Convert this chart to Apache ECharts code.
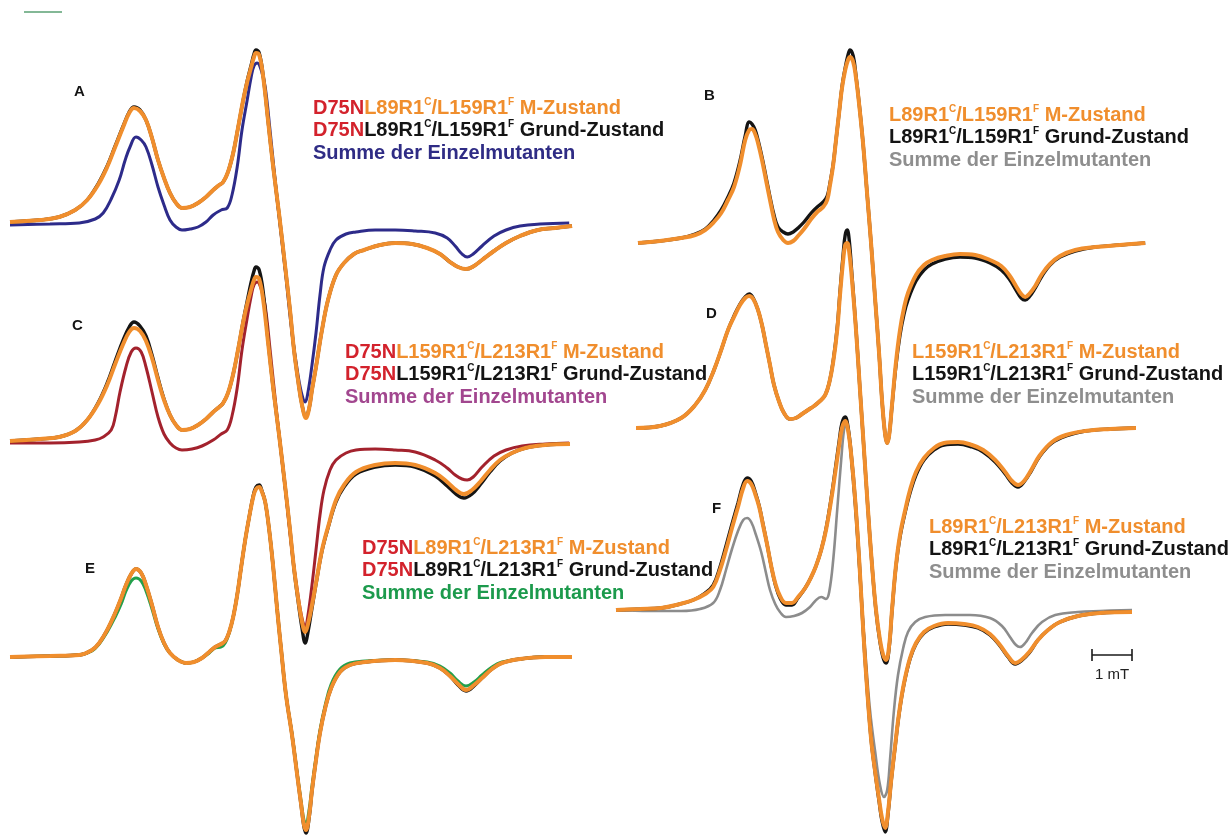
<!DOCTYPE html>
<html>
<head>
<meta charset="utf-8">
<script src="https://cdn.jsdelivr.net/npm/echarts@6/dist/echarts.min.js"></script>
<style>
  html, body { margin: 0; padding: 0; background: #ffffff; }
  #chart { width: 1228px; height: 835px; }
</style>
</head>
<body>
<div id="chart"></div>
<script>
// cw-EPR derivative spectra, points are [field offset (mT), intensity (a.u.)]

// A: D75N L89R1c/L159R1f
const specA_M = [[0,0],[0.75,0.2],[1.23,0.5],[1.63,1.2],[1.93,2.2],[2.2,3.7],[2.43,5.5],[2.63,7.5],[2.83,9.5],[2.98,10.9],[3.1,11.4],[3.25,11.1],[3.4,10.2],[3.55,8.4],[3.7,6.2],[3.85,4.4],[4.0,2.9],[4.15,1.9],[4.3,1.4],[4.5,1.5],[4.7,1.9],[4.9,2.5],[5.08,3.2],[5.23,3.7],[5.33,4.0],[5.45,5.0],[5.58,6.9],[5.7,9.4],[5.83,12.2],[5.93,14.0],[6.03,15.5],[6.1,16.5],[6.15,16.9],[6.23,16.7],[6.33,14.5],[6.45,10.2],[6.58,5.5],[6.73,0.7],[6.88,-4.5],[7.0,-8.8],[7.1,-12.8],[7.2,-15.8],[7.3,-18.3],[7.4,-19.6],[7.48,-18.6],[7.55,-16.8],[7.65,-14.5],[7.8,-10.8],[7.95,-7.8],[8.15,-5.3],[8.35,-4.1],[8.6,-3.2],[8.85,-2.8],[9.25,-2.3],[9.63,-2.1],[10.05,-2.2],[10.43,-2.6],[10.75,-3.2],[11.0,-4.0],[11.2,-4.5],[11.4,-4.7],[11.6,-4.4],[11.8,-3.8],[12.1,-2.9],[12.4,-2.1],[12.75,-1.4],[13.2,-0.8],[13.63,-0.6],[14.05,-0.4]];
const specA_G = [[0,0],[0.75,0.2],[1.23,0.5],[1.63,1.2],[1.93,2.2],[2.2,3.8],[2.43,5.6],[2.63,7.6],[2.83,9.6],[2.98,11.0],[3.1,11.5],[3.25,11.2],[3.4,10.2],[3.55,8.4],[3.7,6.2],[3.85,4.4],[4.0,2.9],[4.15,1.9],[4.3,1.4],[4.5,1.5],[4.7,1.9],[4.9,2.5],[5.08,3.2],[5.23,3.7],[5.33,4.0],[5.45,5.0],[5.58,6.9],[5.7,9.4],[5.83,12.2],[5.93,14.1],[6.03,15.7],[6.1,16.8],[6.15,17.2],[6.23,16.9],[6.33,14.6],[6.45,10.2],[6.58,5.5],[6.73,0.7],[6.88,-4.5],[7.0,-8.8],[7.1,-12.8],[7.2,-15.8],[7.3,-18.3],[7.4,-19.5],[7.48,-18.6],[7.55,-16.8],[7.65,-14.5],[7.8,-10.8],[7.95,-7.8],[8.15,-5.3],[8.35,-4.1],[8.6,-3.2],[8.85,-2.8],[9.25,-2.3],[9.63,-2.1],[10.05,-2.2],[10.43,-2.6],[10.75,-3.2],[11.0,-4.0],[11.2,-4.5],[11.4,-4.7],[11.6,-4.4],[11.8,-3.8],[12.1,-2.9],[12.4,-2.1],[12.75,-1.4],[13.2,-0.8],[13.63,-0.6],[14.05,-0.4]];
const specA_S = [[0,-0.3],[1.0,-0.2],[1.73,-0.1],[2.13,0.3],[2.33,0.9],[2.53,2.3],[2.73,4.2],[2.88,6.2],[3.0,7.5],[3.15,8.5],[3.28,8.2],[3.4,7.5],[3.55,5.7],[3.7,3.5],[3.85,1.7],[4.0,0.2],[4.15,-0.5],[4.3,-0.8],[4.5,-0.7],[4.7,-0.5],[4.9,0],[5.08,0.7],[5.28,1.2],[5.43,1.4],[5.55,2.7],[5.68,5.5],[5.8,9.2],[5.93,12.2],[6.03,14.5],[6.1,15.6],[6.18,15.9],[6.28,15.2],[6.38,13.5],[6.5,9.2],[6.68,2.2],[6.88,-4.8],[7.05,-11.1],[7.2,-15.3],[7.3,-17.3],[7.38,-18.0],[7.45,-17.0],[7.55,-14.3],[7.65,-11.1],[7.75,-7.3],[7.85,-4.5],[8.0,-2.8],[8.15,-1.8],[8.4,-1.2],[8.65,-1.0],[9.13,-0.8],[9.63,-0.8],[10.13,-0.9],[10.63,-1.1],[10.93,-1.6],[11.13,-2.4],[11.3,-3.2],[11.43,-3.5],[11.58,-3.2],[11.8,-2.4],[12.1,-1.4],[12.4,-0.8],[12.75,-0.4],[13.25,-0.2],[13.98,-0.1]];

// C: D75N L159R1c/L213R1f
const specC_M = [[0,-0.1],[0.75,0.1],[1.23,0.3],[1.63,0.9],[1.93,2.0],[2.2,3.6],[2.43,5.5],[2.63,7.6],[2.83,9.6],[2.98,10.8],[3.1,11.2],[3.25,10.9],[3.4,9.9],[3.55,8.2],[3.7,6.0],[3.85,4.0],[4.0,2.5],[4.15,1.5],[4.3,1.0],[4.5,1.1],[4.7,1.5],[4.9,2.1],[5.08,2.8],[5.23,3.3],[5.33,3.7],[5.45,4.7],[5.58,6.6],[5.7,9.0],[5.83,11.8],[5.93,13.6],[6.03,15.1],[6.1,16.0],[6.15,16.3],[6.23,16.1],[6.33,14.0],[6.45,9.8],[6.58,5.2],[6.73,0.4],[6.88,-4.7],[7.0,-9.0],[7.1,-12.8],[7.2,-15.8],[7.3,-18.2],[7.38,-19.2],[7.45,-18.4],[7.55,-16.5],[7.65,-14.3],[7.8,-11.0],[7.95,-8.7],[8.15,-6.0],[8.35,-4.5],[8.65,-3.2],[9.13,-2.5],[9.63,-2.3],[10.13,-2.5],[10.63,-3.3],[10.93,-4.2],[11.15,-5.0],[11.35,-5.4],[11.55,-5.0],[11.75,-4.2],[12.0,-3.0],[12.25,-2.0],[12.55,-1.3],[12.88,-0.8],[13.38,-0.5],[14.0,-0.4]];
const specC_G = [[0,-0.1],[0.75,0.1],[1.23,0.3],[1.63,0.9],[1.93,2.0],[2.2,3.7],[2.43,5.7],[2.63,7.9],[2.83,10.0],[2.98,11.3],[3.1,11.8],[3.25,11.4],[3.4,10.4],[3.55,8.5],[3.7,6.2],[3.85,4.1],[4.0,2.5],[4.15,1.5],[4.3,1.0],[4.5,1.1],[4.7,1.5],[4.9,2.1],[5.08,2.8],[5.23,3.3],[5.33,3.7],[5.45,4.7],[5.58,6.6],[5.7,9.0],[5.83,11.9],[5.93,13.9],[6.03,15.8],[6.1,16.9],[6.15,17.3],[6.23,17.0],[6.33,14.8],[6.45,10.0],[6.58,5.2],[6.73,0.4],[6.88,-4.7],[7.0,-9.0],[7.1,-12.9],[7.2,-16.0],[7.3,-18.8],[7.38,-20.3],[7.45,-19.2],[7.55,-16.8],[7.65,-14.4],[7.8,-11.1],[7.95,-8.8],[8.15,-6.2],[8.35,-4.7],[8.65,-3.4],[9.13,-2.7],[9.63,-2.5],[10.13,-2.7],[10.63,-3.6],[10.93,-4.6],[11.15,-5.4],[11.35,-5.8],[11.55,-5.4],[11.75,-4.5],[12.0,-3.2],[12.25,-2.1],[12.55,-1.3],[12.88,-0.8],[13.38,-0.5],[14.0,-0.4]];
const specC_S = [[0,-0.3],[1.0,-0.3],[1.73,-0.2],[2.13,0],[2.33,0.3],[2.53,1.0],[2.63,2.3],[2.75,4.8],[2.9,7.3],[3.03,8.8],[3.15,9.2],[3.28,8.8],[3.4,7.3],[3.55,4.8],[3.7,2.3],[3.85,0.6],[4.0,-0.3],[4.15,-0.8],[4.3,-1.0],[4.55,-0.9],[4.8,-0.6],[5.08,0],[5.28,0.6],[5.43,1.0],[5.55,2.4],[5.68,5.2],[5.8,9.0],[5.93,12.2],[6.03,14.4],[6.1,15.5],[6.18,15.8],[6.28,15.1],[6.38,13.4],[6.5,9.1],[6.68,2.2],[6.88,-4.8],[7.05,-11.1],[7.2,-15.5],[7.3,-17.8],[7.38,-18.7],[7.45,-17.5],[7.55,-14.5],[7.65,-11.0],[7.75,-7.5],[7.85,-5.0],[8.0,-3.0],[8.15,-2.0],[8.4,-1.3],[8.65,-1.0],[9.13,-0.9],[9.63,-1.0],[10.13,-1.2],[10.63,-2.0],[10.93,-2.8],[11.13,-3.5],[11.3,-3.9],[11.43,-4.0],[11.58,-3.7],[11.8,-2.7],[12.1,-1.6],[12.4,-1.0],[12.8,-0.6],[13.38,-0.4],[13.98,-0.3]];

// E: D75N L89R1c/L213R1f
const specE_M = [[0,0],[1.0,0.1],[1.73,0.2],[2.05,0.7],[2.23,1.4],[2.43,2.7],[2.63,4.4],[2.78,5.9],[2.9,7.2],[3.03,8.3],[3.15,8.8],[3.28,8.4],[3.4,7.2],[3.55,5.2],[3.7,3.0],[3.85,1.4],[4.0,0.4],[4.2,-0.3],[4.4,-0.6],[4.6,-0.5],[4.8,-0.1],[4.98,0.5],[5.13,1.0],[5.28,1.3],[5.38,1.6],[5.48,2.5],[5.58,4.0],[5.68,6.2],[5.78,9.0],[5.88,11.7],[5.98,14.0],[6.08,16.0],[6.15,16.8],[6.23,17.0],[6.3,16.5],[6.38,15.5],[6.48,12.7],[6.58,9.0],[6.68,4.7],[6.78,0.7],[6.9,-3.8],[7.05,-7.8],[7.18,-11.8],[7.28,-14.8],[7.35,-16.8],[7.4,-17.3],[7.48,-15.8],[7.55,-13.3],[7.65,-10.3],[7.75,-7.6],[7.88,-5.1],[8.03,-3.1],[8.25,-1.5],[8.5,-0.8],[8.88,-0.5],[9.63,-0.3],[10.43,-0.6],[10.75,-1.1],[11.0,-1.9],[11.2,-2.7],[11.4,-3.3],[11.6,-2.8],[11.8,-2.1],[12.05,-1.2],[12.3,-0.6],[12.75,-0.2],[13.38,0],[14.05,0]];
const specE_G = [[0,0],[1.0,0.1],[1.73,0.2],[2.05,0.7],[2.23,1.4],[2.43,2.7],[2.63,4.4],[2.78,5.9],[2.9,7.2],[3.03,8.3],[3.15,8.8],[3.28,8.4],[3.4,7.2],[3.55,5.2],[3.7,3.0],[3.85,1.4],[4.0,0.4],[4.2,-0.3],[4.4,-0.6],[4.6,-0.5],[4.8,-0.1],[4.98,0.5],[5.13,1.0],[5.28,1.3],[5.38,1.6],[5.48,2.5],[5.58,4.0],[5.68,6.2],[5.78,9.0],[5.88,11.7],[5.98,14.0],[6.08,16.1],[6.15,17.0],[6.23,17.2],[6.3,16.6],[6.38,15.5],[6.48,12.7],[6.58,9.0],[6.68,4.7],[6.78,0.7],[6.9,-3.8],[7.05,-7.8],[7.18,-11.8],[7.28,-14.9],[7.35,-17.0],[7.4,-17.6],[7.48,-16.0],[7.55,-13.4],[7.65,-10.3],[7.75,-7.6],[7.88,-5.1],[8.03,-3.1],[8.25,-1.5],[8.5,-0.8],[8.88,-0.5],[9.63,-0.3],[10.43,-0.6],[10.75,-1.1],[11.0,-1.9],[11.2,-2.8],[11.4,-3.4],[11.6,-2.9],[11.8,-2.1],[12.05,-1.2],[12.3,-0.6],[12.75,-0.2],[13.38,0],[14.05,0]];
const specE_S = [[0,0],[1.0,0.1],[1.73,0.2],[2.05,0.6],[2.23,1.3],[2.43,2.5],[2.63,4.0],[2.78,5.3],[2.9,6.6],[3.03,7.6],[3.15,7.9],[3.28,7.6],[3.4,6.6],[3.55,4.8],[3.7,2.8],[3.85,1.3],[4.0,0.4],[4.2,-0.3],[4.4,-0.6],[4.6,-0.5],[4.8,-0.1],[4.98,0.4],[5.13,0.9],[5.28,1.0],[5.38,1.4],[5.48,2.4],[5.58,4.0],[5.68,6.2],[5.78,9.0],[5.88,11.7],[5.98,14.0],[6.08,16.0],[6.15,16.8],[6.23,17.0],[6.3,16.5],[6.38,15.5],[6.48,12.7],[6.58,9.0],[6.68,4.7],[6.78,0.7],[6.9,-3.8],[7.05,-7.7],[7.18,-11.6],[7.28,-14.5],[7.35,-16.3],[7.4,-16.5],[7.48,-15.2],[7.55,-12.9],[7.65,-10.0],[7.75,-7.3],[7.88,-4.8],[8.03,-2.7],[8.25,-1.2],[8.5,-0.6],[8.88,-0.4],[9.63,-0.3],[10.43,-0.5],[10.75,-0.9],[11.0,-1.6],[11.2,-2.4],[11.4,-2.9],[11.6,-2.5],[11.8,-1.8],[12.05,-1.0],[12.3,-0.5],[12.75,-0.2],[13.38,0],[14.05,0]];

// B: L89R1c/L159R1f
const specB_M = [[0,0],[0.55,0.2],[1.08,0.5],[1.43,0.8],[1.68,1.3],[1.9,2.1],[2.08,3.0],[2.25,4.3],[2.4,5.6],[2.55,7.8],[2.68,10.3],[2.78,11.3],[2.85,11.4],[2.93,10.9],[3.0,10.0],[3.1,8.3],[3.2,6.3],[3.3,4.3],[3.4,2.4],[3.5,1.1],[3.63,0.3],[3.75,0],[3.88,0.2],[4.0,0.7],[4.15,1.4],[4.33,2.4],[4.48,3.1],[4.63,3.6],[4.73,4.3],[4.8,5.8],[4.88,7.8],[4.95,10.3],[5.03,13.1],[5.1,15.5],[5.18,17.3],[5.25,18.3],[5.3,18.6],[5.38,18.1],[5.45,16.5],[5.53,13.8],[5.63,9.8],[5.73,4.8],[5.83,-0.2],[5.93,-5.7],[6.03,-11.2],[6.1,-15.7],[6.18,-19.2],[6.23,-20.0],[6.28,-19.2],[6.35,-16.2],[6.45,-11.9],[6.55,-8.7],[6.65,-6.5],[6.75,-5.0],[6.95,-3.2],[7.15,-2.2],[7.35,-1.7],[7.68,-1.3],[8.05,-1.1],[8.43,-1.2],[8.8,-1.7],[9.08,-2.3],[9.28,-3.2],[9.45,-4.3],[9.58,-5.1],[9.68,-5.4],[9.78,-5.1],[9.93,-4.3],[10.1,-3.1],[10.3,-2.1],[10.55,-1.3],[10.93,-0.7],[11.43,-0.4],[12.05,-0.2],[12.68,0]];
const specB_G = [[0,0],[0.55,0.2],[1.08,0.5],[1.43,0.9],[1.68,1.4],[1.9,2.3],[2.08,3.3],[2.25,4.6],[2.4,6.0],[2.55,8.2],[2.68,10.7],[2.78,12.1],[2.85,11.9],[2.93,11.3],[3.0,10.3],[3.1,8.6],[3.2,6.6],[3.3,4.6],[3.4,2.8],[3.5,1.6],[3.63,1.1],[3.75,0.9],[3.88,1.1],[4.0,1.5],[4.15,2.1],[4.33,3.0],[4.48,3.6],[4.63,4.1],[4.73,4.7],[4.8,6.0],[4.88,7.9],[4.95,10.3],[5.03,13.1],[5.1,15.6],[5.18,17.5],[5.25,18.8],[5.3,19.3],[5.38,18.7],[5.45,16.7],[5.53,13.9],[5.63,9.8],[5.73,4.8],[5.83,-0.2],[5.93,-5.7],[6.03,-11.2],[6.1,-15.7],[6.18,-19.2],[6.23,-20.0],[6.28,-19.2],[6.35,-16.3],[6.45,-12.2],[6.55,-9.2],[6.65,-7.1],[6.75,-5.7],[6.95,-3.8],[7.15,-2.7],[7.35,-2.1],[7.68,-1.6],[8.05,-1.4],[8.43,-1.5],[8.8,-2.0],[9.08,-2.7],[9.28,-3.6],[9.45,-4.7],[9.58,-5.5],[9.68,-5.7],[9.78,-5.4],[9.93,-4.5],[10.1,-3.3],[10.3,-2.2],[10.55,-1.4],[10.93,-0.8],[11.43,-0.4],[12.05,-0.2],[12.68,0]];

// D: L159R1c/L213R1f
const specD_M = [[0,0],[0.6,0.2],[1.13,1.0],[1.48,2.3],[1.73,3.8],[1.95,5.8],[2.13,7.8],[2.3,9.8],[2.45,11.1],[2.6,12.3],[2.73,13.0],[2.83,13.2],[2.93,12.9],[3.05,11.8],[3.15,10.3],[3.25,8.3],[3.35,6.3],[3.45,4.3],[3.58,2.6],[3.7,1.5],[3.85,0.9],[4.0,1.0],[4.15,1.4],[4.3,1.8],[4.45,2.2],[4.6,2.7],[4.73,3.3],[4.83,4.5],[4.93,6.6],[5.03,9.8],[5.1,13.3],[5.18,16.8],[5.23,18.3],[5.28,18.5],[5.33,17.6],[5.4,14.8],[5.5,9.8],[5.6,3.8],[5.7,-2.2],[5.8,-8.2],[5.9,-13.7],[6.0,-18.2],[6.1,-21.2],[6.18,-22.7],[6.25,-23.2],[6.33,-21.7],[6.4,-18.2],[6.5,-13.7],[6.6,-10.7],[6.73,-8.2],[6.85,-6.2],[7.0,-4.4],[7.2,-3.0],[7.45,-2.0],[7.7,-1.5],[8.05,-1.4],[8.4,-1.7],[8.68,-2.2],[8.98,-3.2],[9.23,-4.4],[9.4,-5.3],[9.55,-5.7],[9.7,-5.3],[9.88,-4.2],[10.1,-2.7],[10.4,-1.4],[10.75,-0.7],[11.23,-0.3],[11.85,-0.1],[12.5,0]];
const specD_G = [[0,0],[0.6,0.2],[1.13,1.0],[1.48,2.3],[1.73,3.8],[1.95,5.8],[2.13,7.8],[2.3,9.8],[2.45,11.2],[2.6,12.4],[2.73,13.1],[2.83,13.4],[2.93,13.0],[3.05,11.8],[3.15,10.3],[3.25,8.3],[3.35,6.3],[3.45,4.3],[3.58,2.6],[3.7,1.5],[3.85,0.9],[4.0,1.0],[4.15,1.4],[4.3,1.8],[4.45,2.2],[4.6,2.7],[4.73,3.3],[4.83,4.5],[4.93,6.7],[5.03,10.0],[5.1,13.6],[5.18,17.4],[5.23,19.3],[5.28,19.8],[5.33,18.8],[5.4,15.2],[5.5,9.9],[5.6,3.8],[5.7,-2.2],[5.8,-8.2],[5.9,-13.7],[6.0,-18.3],[6.1,-21.4],[6.18,-23.0],[6.25,-23.5],[6.33,-21.9],[6.4,-18.3],[6.5,-13.8],[6.6,-10.9],[6.73,-8.4],[6.85,-6.5],[7.0,-4.7],[7.2,-3.2],[7.45,-2.2],[7.7,-1.7],[8.05,-1.6],[8.4,-1.9],[8.68,-2.4],[8.98,-3.4],[9.23,-4.6],[9.4,-5.5],[9.55,-5.9],[9.7,-5.4],[9.88,-4.3],[10.1,-2.8],[10.4,-1.5],[10.75,-0.8],[11.23,-0.3],[11.85,-0.1],[12.5,0]];

// F: L89R1c/L213R1f
const specF_M = [[0,0],[0.6,0.1],[1.13,0.2],[1.6,0.6],[1.93,1.0],[2.23,1.6],[2.43,2.3],[2.6,4.0],[2.75,6.0],[2.9,8.2],[3.05,10.3],[3.18,12.2],[3.28,12.9],[3.38,12.6],[3.48,11.6],[3.58,10.3],[3.68,8.4],[3.78,6.5],[3.88,4.4],[3.98,2.7],[4.1,1.4],[4.25,0.7],[4.4,0.7],[4.55,1.3],[4.73,2.2],[4.88,3.3],[5.0,4.4],[5.13,6.0],[5.25,8.0],[5.38,11.0],[5.48,13.7],[5.58,16.5],[5.65,18.2],[5.73,18.9],[5.8,18.0],[5.88,15.5],[5.98,11.0],[6.08,5.0],[6.18,-2.0],[6.28,-8.0],[6.38,-13.0],[6.48,-16.2],[6.58,-19.0],[6.65,-20.8],[6.73,-21.8],[6.8,-20.2],[6.88,-17.0],[6.98,-13.5],[7.08,-10.2],[7.2,-7.3],[7.35,-4.8],[7.5,-3.3],[7.7,-2.2],[7.95,-1.6],[8.3,-1.3],[8.7,-1.4],[9.05,-1.7],[9.35,-2.4],[9.6,-3.5],[9.8,-4.6],[9.98,-5.3],[10.13,-5.0],[10.33,-4.2],[10.55,-3.0],[10.8,-2.0],[11.1,-1.2],[11.55,-0.6],[12.1,-0.3],[12.9,-0.2]];
const specF_G = [[0,0],[0.6,0.1],[1.13,0.2],[1.6,0.6],[1.93,1.0],[2.23,1.7],[2.43,2.5],[2.6,4.3],[2.75,6.4],[2.9,8.6],[3.05,10.7],[3.18,12.6],[3.28,13.2],[3.38,12.9],[3.48,11.8],[3.58,10.4],[3.68,8.5],[3.78,6.5],[3.88,4.4],[3.98,2.6],[4.1,1.2],[4.25,0.5],[4.4,0.5],[4.55,1.2],[4.73,2.2],[4.88,3.3],[5.0,4.4],[5.13,6.0],[5.25,8.1],[5.38,11.2],[5.48,14.0],[5.58,16.9],[5.65,18.7],[5.73,19.3],[5.8,18.3],[5.88,15.6],[5.98,11.0],[6.08,5.0],[6.18,-2.0],[6.28,-8.0],[6.38,-13.0],[6.48,-16.3],[6.58,-19.2],[6.65,-21.1],[6.73,-22.2],[6.8,-20.4],[6.88,-17.1],[6.98,-13.6],[7.08,-10.3],[7.2,-7.4],[7.35,-4.9],[7.5,-3.4],[7.7,-2.3],[7.95,-1.7],[8.3,-1.4],[8.7,-1.5],[9.05,-1.8],[9.35,-2.5],[9.6,-3.6],[9.8,-4.7],[9.98,-5.4],[10.13,-5.1],[10.33,-4.3],[10.55,-3.0],[10.8,-2.0],[11.1,-1.2],[11.55,-0.6],[12.1,-0.3],[12.9,-0.2]];
const specF_S = [[0,0],[0.85,-0.1],[1.63,-0.1],[2.1,0.1],[2.43,0.7],[2.6,2.0],[2.75,4.0],[2.9,6.1],[3.05,7.9],[3.18,9.0],[3.28,9.2],[3.38,8.8],[3.5,7.5],[3.63,5.8],[3.75,3.7],[3.85,2.0],[3.98,0.6],[4.1,-0.2],[4.25,-0.7],[4.45,-0.6],[4.65,-0.3],[4.85,0.3],[4.98,0.9],[5.13,1.3],[5.25,1.1],[5.33,1.8],[5.43,5.0],[5.53,10.0],[5.63,15.0],[5.7,18.0],[5.75,18.5],[5.83,17.0],[5.9,14.0],[6.0,9.0],[6.1,3.0],[6.23,-4.0],[6.35,-10.0],[6.48,-14.2],[6.6,-17.5],[6.7,-18.7],[6.78,-18.0],[6.85,-15.0],[6.95,-10.0],[7.05,-6.5],[7.18,-3.8],[7.3,-2.2],[7.48,-1.2],[7.73,-0.7],[8.23,-0.5],[8.85,-0.5],[9.35,-0.8],[9.65,-1.6],[9.85,-2.7],[10.0,-3.5],[10.1,-3.7],[10.23,-3.3],[10.4,-2.3],[10.65,-1.2],[10.98,-0.5],[11.55,-0.2],[12.1,-0.1],[12.9,0]];

// labels
const panelLetters = ['A', 'B', 'C', 'D', 'E', 'F'];
const seriesNames = ['M-Zustand', 'Grund-Zustand', 'Summe der Einzelmutanten'];
const mutantLabels = {
  A: { prefix: 'D75N', s1: 'L89R1', s2: 'L159R1' },
  B: { prefix: '',     s1: 'L89R1', s2: 'L159R1' },
  C: { prefix: 'D75N', s1: 'L159R1', s2: 'L213R1' },
  D: { prefix: '',     s1: 'L159R1', s2: 'L213R1' },
  E: { prefix: 'D75N', s1: 'L89R1', s2: 'L213R1' },
  F: { prefix: '',     s1: 'L89R1', s2: 'L213R1' }
};
const scaleBarLabel = '1 mT';

// ---------- layout and styling ----------
const W = 1228, H = 835;
const PX_PER_MT = 40;   // horizontal scale
const PX_PER_AU = 10;   // vertical scale
const ORANGE = '#F08E2D', BLACK = '#141414', RED = '#D3222C';
const FONT = '"Liberation Sans", Arial, Helvetica, sans-serif';

const panels = [
  { key: 'A', x0: 10,  base: 222, sum: specA_S, sumColor: '#2D2B8A', sumText: '#2F2C85',
    m: specA_M, g: specA_G, letter: [74, 84], legend: [313, 97] },
  { key: 'B', x0: 638, base: 243, sum: null, sumColor: null, sumText: '#8E8E8E',
    m: specB_M, g: specB_G, letter: [704, 88], legend: [889, 104] },
  { key: 'C', x0: 10,  base: 440, sum: specC_S, sumColor: '#A3222D', sumText: '#A2478F',
    m: specC_M, g: specC_G, letter: [72, 318], legend: [345, 341] },
  { key: 'D', x0: 636, base: 428, sum: null, sumColor: null, sumText: '#8E8E8E',
    m: specD_M, g: specD_G, letter: [706, 306], legend: [912, 341] },
  { key: 'E', x0: 10,  base: 657, sum: specE_S, sumColor: '#22A04C', sumText: '#1C9A4C',
    m: specE_M, g: specE_G, letter: [85, 561], legend: [362, 537] },
  { key: 'F', x0: 616, base: 610, sum: specF_S, sumColor: '#8C8C8C', sumText: '#8E8E8E',
    m: specF_M, g: specF_G, letter: [712, 501], legend: [929, 516] }
];

const LINE_GAP = 22.5;
const baseTok = { fontSize: 20, fontWeight: 'bold', fontFamily: FONT, lineHeight: 22 };
const supTok = { fontSize: 10, fontWeight: 'bold', fontFamily: FONT, lineHeight: 10, verticalAlign: 'top' };
function richFor(sumText) {
  return {
    r: Object.assign({ color: RED }, baseTok),
    o: Object.assign({ color: ORANGE }, baseTok),
    os: Object.assign({ color: ORANGE }, supTok),
    k: Object.assign({ color: BLACK }, baseTok),
    ks: Object.assign({ color: BLACK }, supTok),
    s: Object.assign({ color: sumText }, baseTok)
  };
}
function mutantLine(lbl, tok, name) {
  const pre = lbl.prefix ? '{r|' + lbl.prefix + '}' : '';
  return pre + '{' + tok + '|' + lbl.s1 + '}{' + tok + 's|C}{' + tok + '|/' + lbl.s2 +
         '}{' + tok + 's|F}{' + tok + '| ' + name + '}';
}

const grids = [], xAxes = [], yAxes = [], series = [], titles = [];
panels.forEach((p, i) => {
  grids.push({ left: 0, top: 0, width: W, height: H, containLabel: false, show: false });
  xAxes.push({ type: 'value', gridIndex: i, show: false, splitLine: { show: false },
    min: -p.x0 / PX_PER_MT, max: (W - p.x0) / PX_PER_MT });
  yAxes.push({ type: 'value', gridIndex: i, show: false, splitLine: { show: false },
    min: -(H - p.base) / PX_PER_AU, max: p.base / PX_PER_AU });

  const common = { type: 'line', xAxisIndex: i, yAxisIndex: i, showSymbol: false,
    smooth: 0.4, silent: true, animation: false };
  if (p.sum) {
    series.push(Object.assign({ name: p.key + ' ' + seriesNames[2], data: p.sum, z: 2,
      lineStyle: { color: p.sumColor, width: p.key === 'F' ? 2.6 : 3 } }, common));
  }
  series.push(Object.assign({ name: p.key + ' ' + seriesNames[1], data: p.g, z: 3,
    lineStyle: { color: BLACK, width: 3.4 } }, common));
  series.push(Object.assign({ name: p.key + ' ' + seriesNames[0], data: p.m, z: 4,
    lineStyle: { color: ORANGE, width: 4 } }, common));

  titles.push({ text: panelLetters[i], left: p.letter[0], top: p.letter[1], padding: 0,
    textStyle: { fontSize: 15, fontWeight: 'bold', fontFamily: FONT, color: BLACK } });
  const lbl = mutantLabels[p.key];
  const rich = richFor(p.sumText);
  const lines = [mutantLine(lbl, 'o', seriesNames[0]), mutantLine(lbl, 'k', seriesNames[1]),
                 '{s|' + seriesNames[2] + '}'];
  lines.forEach((t, j) => {
    titles.push({ text: t, left: p.legend[0], top: p.legend[1] + j * LINE_GAP, padding: 0,
      textStyle: { rich: rich, fontSize: 20, fontWeight: 'bold', fontFamily: FONT } });
  });
});

const chart = echarts.init(document.getElementById('chart'), null, { renderer: 'canvas' });
chart.setOption({
  backgroundColor: '#ffffff',
  animation: false,
  title: titles,
  grid: grids,
  xAxis: xAxes,
  yAxis: yAxes,
  series: series
});

// 1 mT scale bar placed in panel F's field coordinates
const fIdx = panels.findIndex(p => p.key === 'F');
const barStart = chart.convertToPixel({ gridIndex: fIdx }, [11.9, -4.5]);
const barEnd = chart.convertToPixel({ gridIndex: fIdx }, [12.9, -4.5]);
const tick = 6;
chart.setOption({
  graphic: [
    { type: 'line', silent: true, shape: { x1: barStart[0], y1: barStart[1], x2: barEnd[0], y2: barEnd[1] },
      style: { stroke: '#1a1a1a', lineWidth: 1.6 } },
    { type: 'line', silent: true, shape: { x1: barStart[0], y1: barStart[1] - tick, x2: barStart[0], y2: barStart[1] + tick },
      style: { stroke: '#1a1a1a', lineWidth: 1.6 } },
    { type: 'line', silent: true, shape: { x1: barEnd[0], y1: barEnd[1] - tick, x2: barEnd[0], y2: barEnd[1] + tick },
      style: { stroke: '#1a1a1a', lineWidth: 1.6 } },
    { type: 'text', silent: true, x: (barStart[0] + barEnd[0]) / 2, y: barStart[1] + 20,
      style: { text: scaleBarLabel, fill: '#222222', font: '15px ' + FONT, align: 'center', verticalAlign: 'middle' } },
    { type: 'line', silent: true, shape: { x1: 24, y1: 12, x2: 62, y2: 12 },
      style: { stroke: '#4f9a6a', lineWidth: 2, opacity: 0.7 } }
  ]
});
</script>
</body>
</html>
